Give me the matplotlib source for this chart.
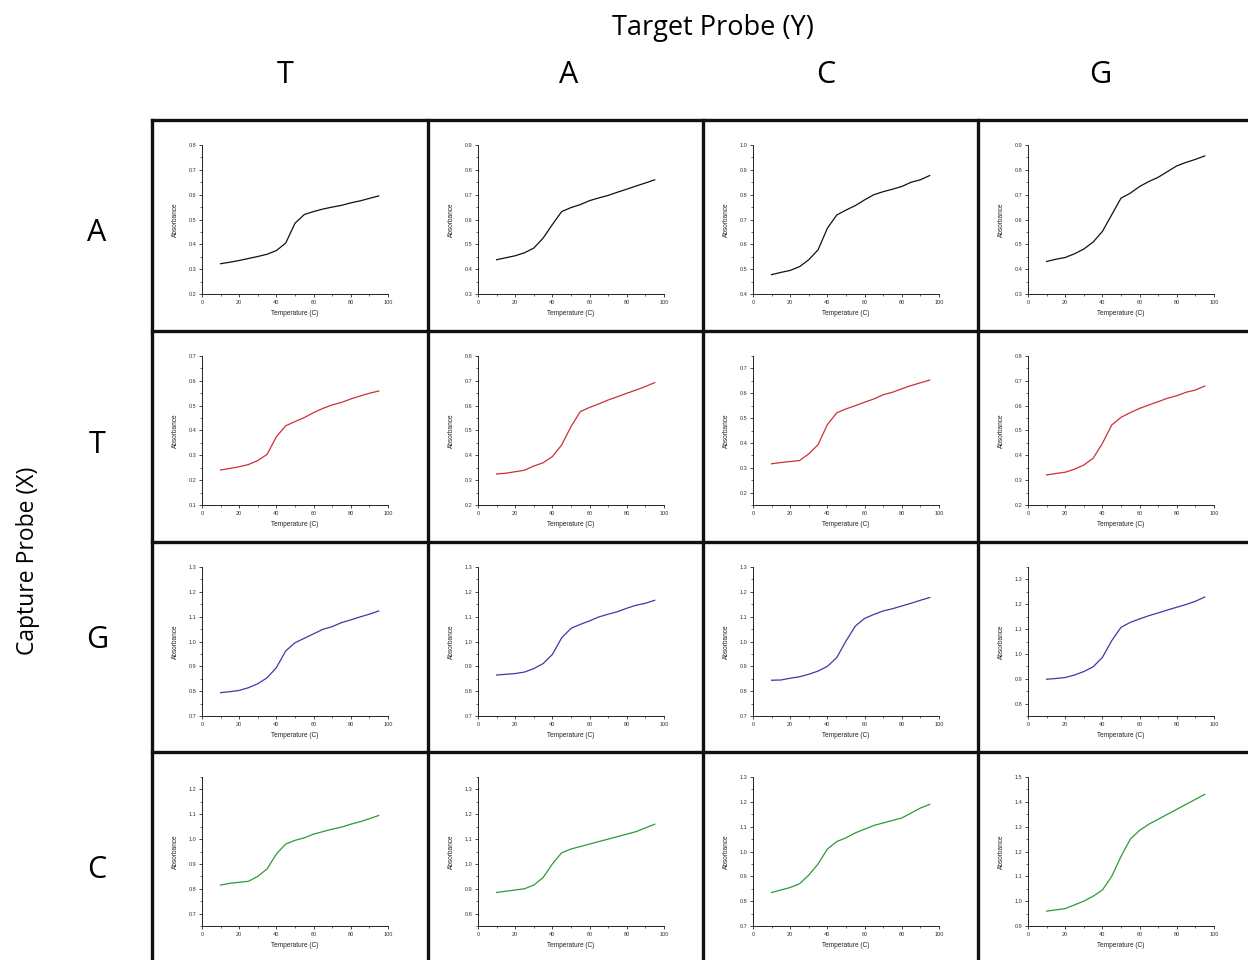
import numpy as np
import matplotlib
matplotlib.use("Agg")
import matplotlib.pyplot as plt
from matplotlib.lines import Line2D
from matplotlib.ticker import MultipleLocator, FormatStrFormatter

# melting curves, absorbance read every 5 C from 10 to 95
temps = [10, 15, 20, 25, 30, 35, 40, 45, 50, 55, 60, 65, 70, 75, 80, 85, 90, 95]

target_probes = ["T", "A", "C", "G"]
capture_probes = ["A", "T", "G", "C"]

# capture A
a_t = [0.322, 0.328, 0.335, 0.343, 0.351, 0.360, 0.375, 0.405, 0.485, 0.520, 0.532, 0.542, 0.550, 0.557, 0.567, 0.575, 0.585, 0.595]
a_a = [0.438, 0.446, 0.454, 0.466, 0.485, 0.525, 0.580, 0.632, 0.648, 0.660, 0.676, 0.687, 0.697, 0.710, 0.722, 0.735, 0.747, 0.760]
a_c = [0.478, 0.487, 0.495, 0.510, 0.538, 0.578, 0.665, 0.718, 0.738, 0.756, 0.779, 0.800, 0.812, 0.822, 0.833, 0.850, 0.860, 0.877]
a_g = [0.431, 0.440, 0.447, 0.462, 0.481, 0.509, 0.552, 0.619, 0.686, 0.706, 0.733, 0.753, 0.770, 0.793, 0.816, 0.830, 0.842, 0.856]
# capture T
t_t = [0.241, 0.247, 0.254, 0.263, 0.279, 0.304, 0.375, 0.419, 0.436, 0.452, 0.472, 0.489, 0.503, 0.513, 0.527, 0.539, 0.550, 0.559]
t_a = [0.325, 0.328, 0.334, 0.340, 0.357, 0.370, 0.395, 0.442, 0.516, 0.576, 0.593, 0.607, 0.623, 0.636, 0.650, 0.663, 0.677, 0.693]
t_c = [0.316, 0.321, 0.325, 0.329, 0.356, 0.393, 0.474, 0.521, 0.537, 0.550, 0.564, 0.577, 0.594, 0.604, 0.618, 0.631, 0.642, 0.653]
t_g = [0.321, 0.327, 0.332, 0.344, 0.361, 0.388, 0.448, 0.522, 0.553, 0.572, 0.589, 0.603, 0.616, 0.630, 0.640, 0.654, 0.663, 0.679]
# capture G
g_t = [0.794, 0.798, 0.803, 0.814, 0.830, 0.854, 0.895, 0.962, 0.995, 1.013, 1.031, 1.049, 1.060, 1.076, 1.087, 1.099, 1.110, 1.123]
g_a = [0.865, 0.868, 0.871, 0.877, 0.891, 0.911, 0.948, 1.015, 1.053, 1.069, 1.083, 1.099, 1.110, 1.120, 1.134, 1.146, 1.154, 1.166]
g_c = [0.844, 0.845, 0.852, 0.858, 0.868, 0.881, 0.900, 0.935, 1.002, 1.062, 1.093, 1.109, 1.123, 1.132, 1.143, 1.154, 1.166, 1.177]
g_g = [0.898, 0.901, 0.905, 0.915, 0.929, 0.948, 0.986, 1.053, 1.107, 1.127, 1.141, 1.154, 1.165, 1.177, 1.188, 1.199, 1.212, 1.229]
# capture C
c_t = [0.815, 0.822, 0.826, 0.830, 0.850, 0.880, 0.940, 0.980, 0.995, 1.005, 1.020, 1.030, 1.040, 1.048, 1.060, 1.070, 1.082, 1.095]
c_a = [0.885, 0.890, 0.895, 0.900, 0.915, 0.945, 1.000, 1.045, 1.060, 1.070, 1.080, 1.090, 1.100, 1.110, 1.120, 1.130, 1.145, 1.160]
c_c = [0.835, 0.845, 0.855, 0.870, 0.905, 0.950, 1.010, 1.040, 1.055, 1.075, 1.090, 1.105, 1.115, 1.125, 1.135, 1.155, 1.175, 1.190]
c_g = [0.960, 0.965, 0.970, 0.985, 1.000, 1.020, 1.045, 1.100, 1.180, 1.250, 1.285, 1.310, 1.330, 1.350, 1.370, 1.390, 1.410, 1.430]

curves = [[a_t, a_a, a_c, a_g],
          [t_t, t_a, t_c, t_g],
          [g_t, g_a, g_c, g_g],
          [c_t, c_a, c_c, c_g]]

# y range of each small plot
y_limits = [[(0.2, 0.8), (0.3, 0.9), (0.4, 1.0), (0.3, 0.9)],
            [(0.1, 0.7), (0.2, 0.8), (0.15, 0.75), (0.2, 0.8)],
            [(0.7, 1.3), (0.7, 1.3), (0.7, 1.3), (0.75, 1.35)],
            [(0.65, 1.25), (0.75, 1.35), (0.7, 1.3), (0.9, 1.5)]]

row_colors = ["#111111", "#cc3038", "#3a3aa8", "#2e9a36"]

W, H = 1248, 960
fig = plt.figure(figsize=(W / 100, H / 100), dpi=100)
fig.patch.set_facecolor("white")

head_font = "Open Sans"
small_font = "Liberation Sans"

col_left = [152, 428, 703, 978]
row_top = [120, 331, 542, 752]


def fx(x):
    return x / W


def fy(y):
    return 1 - y / H


# thick grid around the panels
for x in col_left:
    fig.add_artist(Line2D([fx(x), fx(x)], [fy(row_top[0]), fy(H + 5)],
                          color="#111111", lw=2.4, transform=fig.transFigure))
for y in row_top:
    fig.add_artist(Line2D([fx(col_left[0]), fx(W + 5)], [fy(y), fy(y)],
                          color="#111111", lw=2.4, transform=fig.transFigure))

for r in range(4):
    for c in range(4):
        left = col_left[c] + 50
        top = row_top[r] + 25
        ax = fig.add_axes([fx(left), fy(top + 149), 186 / W, 149 / H])
        ax.plot(temps, curves[r][c], color=row_colors[r], lw=0.9)
        ax.set_xlim(0, 100)
        ax.set_ylim(*y_limits[r][c])
        ax.xaxis.set_major_locator(MultipleLocator(20))
        ax.xaxis.set_minor_locator(MultipleLocator(10))
        ax.yaxis.set_major_locator(MultipleLocator(0.1))
        ax.yaxis.set_minor_locator(MultipleLocator(0.05))
        ax.yaxis.set_major_formatter(FormatStrFormatter("%.1f"))
        for s in ["top", "right"]:
            ax.spines[s].set_visible(False)
        for s in ["left", "bottom"]:
            ax.spines[s].set_linewidth(0.6)
        ax.tick_params(which="major", length=2.5, width=0.5, labelsize=4, pad=1.5,
                       labelcolor="#333333")
        ax.tick_params(which="minor", length=1.3, width=0.4)
        for lab in ax.get_xticklabels() + ax.get_yticklabels():
            lab.set_fontfamily(small_font)
        ax.set_xlabel("Temperature (C)", fontsize=4.7, family=small_font, labelpad=4,
                      color="#222222")
        ax.set_ylabel("Absorbance", fontsize=4.7, family=small_font, labelpad=7,
                      color="#222222")

# headers
fig.text(fx(713), fy(28), "Target Probe (Y)", fontsize=19.5, family=head_font,
         ha="center", va="center")
for x, lab in zip([285, 569, 826, 1100], target_probes):
    fig.text(fx(x), fy(75), lab, fontsize=22, family=head_font, ha="center", va="center")
for y, lab in zip([233, 445, 640, 870], capture_probes):
    fig.text(fx(97), fy(y), lab, fontsize=22, family=head_font, ha="center", va="center")
fig.text(fx(28), fy(561), "Capture Probe (X)", fontsize=16.5, family=head_font,
         rotation=90, ha="center", va="center")

fig.savefig("out.png", dpi=100)
